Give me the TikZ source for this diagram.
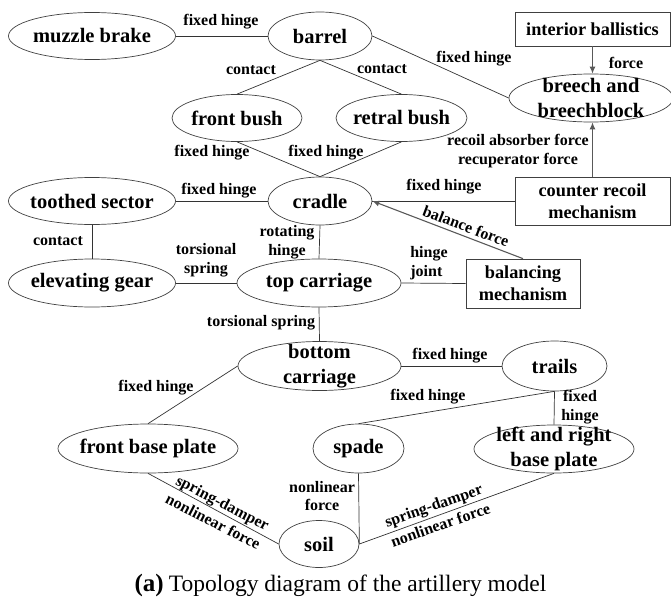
\documentclass[tikz,border=0pt]{standalone}
\usepackage{fontspec}
\setmainfont{Liberation Serif}
\usetikzlibrary{shapes.geometric,arrows.meta}
\begin{document}
\begin{tikzpicture}[x=1pt,y=-1pt,
  ell/.style={draw=black!75, line width=0.7pt, ellipse, inner sep=0pt},
  en/.style n args={3}{ell, minimum width=#1, minimum height=#2, label={[et]center:{#3}}},
  box/.style={draw=black!75, line width=0.7pt, rectangle, inner sep=0pt, align=center, font=\fontsize{18.3}{22}\selectfont\bfseries},
  et/.style={align=center, inner sep=0pt, font=\fontsize{20.5}{24.5}\selectfont\bfseries},
  lbl/.style={align=center, inner sep=0pt, font=\fontsize{16}{18.5}\selectfont\bfseries},
  lbl2/.style={align=center, inner sep=0pt, font=\fontsize{16}{21}\selectfont\bfseries},
  con/.style={draw=black!80, line width=0.7pt},
  arr/.style={draw=black!65, line width=1.1pt, -{Latex[length=7pt,width=6pt]}},
]
\useasboundingbox (0,0) rectangle (671,599);
% nodes
\node[en={167}{47}{muzzle brake}] (mb) at (92,36) {};
\node[en={104}{48}{barrel}] (barrel) at (320,36) {};
\node[box, minimum width=155, minimum height=34] (ib) at (592.5,29) {interior ballistics};
\node[en={164}{48}{breech and\\breechblock}] (bb) at (591,98) {};
\node[en={130}{47}{front bush}] (fb) at (237,118) {};
\node[en={131}{47}{retral bush}] (rb) at (401.5,118) {};
\node[en={167}{47}{toothed sector}] (ts) at (92,201) {};
\node[en={104}{48}{cradle}] (cr) at (320,201) {};
\node[box, minimum width=155, minimum height=48] (crm) at (592.5,201) {counter recoil\\mechanism};
\node[en={167}{48}{elevating gear}] (eg) at (92,283) {};
\node[en={164}{48}{top carriage}] (tc) at (319,283) {};
\node[box, minimum width=114, minimum height=49] (bm) at (523,283.5) {balancing\\mechanism};
\node[en={163}{49}{bottom\\carriage}] (bc) at (319.5,366) {};
\node[en={105}{50}{trails}] (tr) at (554.5,366) {};
\node[en={180}{49}{front base plate}] (fbp) at (148,448.5) {};
\node[en={91}{49}{spade}] (sp) at (358.5,448.5) {};
\node[en={160}{48}{left and right\\base plate}] (lr) at (554,449) {};
\node[en={80}{47}{soil}] (soil) at (319,544) {};
% connectors
\draw[con] (mb.east) -- (barrel.west);
\draw[con] (barrel.south) -- (fb.north);
\draw[con] (barrel.south) -- (rb.north);
\draw[con] (barrel.east) -- (bb.west);
\draw[arr] (ib.south) -- (ib.south |- bb.north);
\draw[arr] (crm.north) -- (crm.north |- bb.south);
\draw[con] (fb.south) -- (cr.north);
\draw[con] (rb.south) -- (cr.north);
\draw[con] (ts.east) -- (cr.west);
\draw[con] (crm.west) -- (cr.east);
\draw[arr] (bm.north) -- (cr.east);
\draw[con] (ts.south) -- (eg.north);
\draw[con] (eg.east) -- (tc.west);
\draw[con] (cr.south) -- (tc.north);
\draw[con] (tc.east) -- (bm.west);
\draw[con] (tc.south) -- (bc.north);
\draw[con] (bc.east) -- (tr.west);
\draw[con] (bc.west) -- (fbp.north);
\draw[con] (tr.south) -- (sp.north);
\draw[con] (tr.south) -- (lr.north);
\draw[con] (fbp.south) -- (soil.west);
\draw[con] (soil.east) -- (lr.south);
\draw[con] (sp.south) -- (soil.east);
% labels
\node[lbl] (l1) at (221,22) {fixed hinge};
\node[lbl] (l2) at (251,70) {contact};
\node[lbl] (l3) at (382,69) {contact};
\node[lbl] (l4) at (474,59) {fixed hinge};
\node[lbl] (l5) at (626,63) {force};
\node[lbl] (l6) at (518,151) {recoil absorber force\\recuperator force};
\node[lbl] (l7) at (212,153) {fixed hinge};
\node[lbl] (l8) at (326,153) {fixed hinge};
\node[lbl] (l9) at (219,191) {fixed hinge};
\node[lbl] (l10) at (444,187) {fixed hinge};
\node[lbl, rotate=-20.8] (l11) at (466,226) {balance force};
\node[lbl] (l12) at (58,241) {contact};
\node[lbl] (l13) at (206,260) {torsional\\spring};
\node[lbl] (l14) at (287,242) {rotating\\hinge};
\node[lbl, align=left] (l15) at (429,263) {hinge\\joint};
\node[lbl] (l16) at (261,323) {torsional spring};
\node[lbl] (l17) at (450,356) {fixed hinge};
\node[lbl] (l18) at (156,388) {fixed hinge};
\node[lbl] (l19) at (428,397) {fixed hinge};
\node[lbl] (l20) at (580,407) {fixed\\hinge};
\node[lbl2, rotate=-27.4] (l21) at (218,512) {spring-damper\\nonlinear force};
\node[lbl2, rotate=19.2] (l22) at (437,515) {spring-damper\\nonlinear force};
\node[lbl] (l23) at (322,496) {nonlinear\\force};
% caption
\node[anchor=base, inner sep=0pt, font=\fontsize{23.5}{27}\selectfont] (cap) at (340.5,591) {{\fontsize{25}{27}\selectfont\bfseries (a)}\hspace{5pt}Topology diagram of the artillery model};
\end{tikzpicture}
\end{document}
